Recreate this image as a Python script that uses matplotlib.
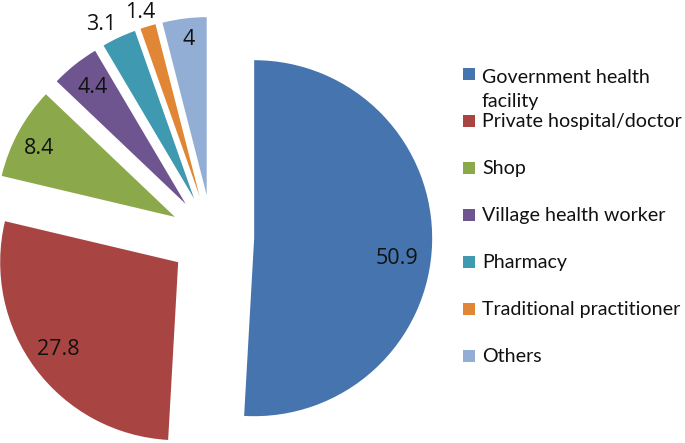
import numpy as np
import matplotlib.pyplot as plt
from matplotlib.patches import Rectangle

categories = ["Government health\nfacility", "Private hospital/doctor", "Shop",
              "Village health worker", "Pharmacy", "Traditional practitioner", "Others"]
values = [50.9, 27.8, 8.4, 4.4, 3.1, 1.4, 4]
value_labels = ["50.9", "27.8", "8.4", "4.4", "3.1", "1.4", "4"]
colors = ["#4674AE", "#A84543", "#8BA84A", "#6F558F", "#3F99B0", "#E08634", "#93AED5"]

# where each number sits relative to its slice tip: distance in radii, angle nudge in degrees
label_dist = [0.81, 0.83, 0.855, 0.84, 1.11, 1.09, 0.88]
label_nudge = [-6.4, -0.7, 1.8, 0.2, 3.0, 1.0, -0.7]

W, H = 685, 443
cx, cy, R = 212, 237, 178  # pie centre and radius in pixels

plt.rcParams['font.family'] = ['Lato', 'DejaVu Sans']

fig = plt.figure(figsize=(W / 100, H / 100), dpi=100)
ax = fig.add_axes([0, 0, 1, 1])
wedges, _ = ax.pie(values, colors=colors, startangle=90, counterclock=False,
                   explode=[0.237] * len(values), radius=1,
                   wedgeprops=dict(linewidth=0))
ax.set_xlim(-cx / R, (W - cx) / R)
ax.set_ylim(-(H - cy) / R, cy / R)
ax.axis('off')

for w, txt, d, nudge in zip(wedges, value_labels, label_dist, label_nudge):
    ang = np.deg2rad((w.theta1 + w.theta2) / 2 + nudge)
    x = w.center[0] + d * w.r * np.cos(ang)
    y = w.center[1] + d * w.r * np.sin(ang)
    ax.text(x, y, txt, ha='center', va='center', fontsize=15.5, color='#111111',
            family=['Open Sans', 'DejaVu Sans'])

# legend, Excel style: fixed step between entries
box_x, text_x = 463, 482
first_y, step, sq, line_h = 74, 47, 12, 27
for i, (lab, col) in enumerate(zip(categories, colors)):
    yc = first_y + i * step
    fig.add_artist(Rectangle((box_x / W, 1 - (yc + sq / 2) / H), sq / W, sq / H,
                             transform=fig.transFigure, facecolor=col, edgecolor='none'))
    base = yc + 6 + lab.count('\n') * line_h  # baseline of the last line
    fig.text(text_x / W, 1 - base / H, lab, ha='left', va='baseline',
             fontsize=14.1, color='#111111', linespacing=1.5)

fig.savefig('out.png', dpi=100)
